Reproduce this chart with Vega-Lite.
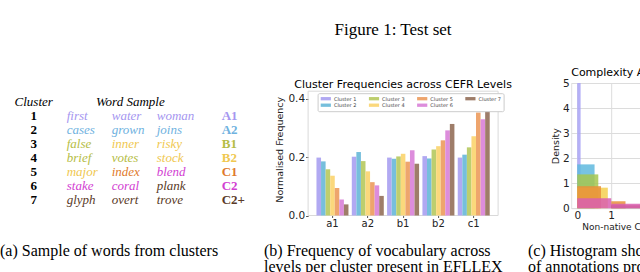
{
  "$schema": "https://vega.github.io/schema/vega-lite/v6.json",
  "background": "white",
  "padding": {"left": 0, "top": 20, "right": 0, "bottom": 0},
  "autosize": {"type": "pad"},
  "title": {"text": "Figure 1:  Test set", "anchor": "start", "dx": 334.5, "font": "Liberation Serif", "fontSize": 17, "fontWeight": "normal", "color": "black", "baseline": "alphabetic", "offset": 15},
  "spacing": 9.5,
  "resolve": {"scale": {"color": "independent"}, "legend": {"color": "independent"}},
  "datasets": {
    "words": [
      {"row": 1, "col": "w1", "word": "first", "level": "A1"},
      {"row": 1, "col": "w2", "word": "water", "level": "A1"},
      {"row": 1, "col": "w3", "word": "woman", "level": "A1"},
      {"row": 2, "col": "w1", "word": "cases", "level": "A2"},
      {"row": 2, "col": "w2", "word": "grown", "level": "A2"},
      {"row": 2, "col": "w3", "word": "joins", "level": "A2"},
      {"row": 3, "col": "w1", "word": "false", "level": "B1"},
      {"row": 3, "col": "w2", "word": "inner", "level": "B2"},
      {"row": 3, "col": "w3", "word": "risky", "level": "B2"},
      {"row": 4, "col": "w1", "word": "brief", "level": "B1"},
      {"row": 4, "col": "w2", "word": "votes", "level": "B1"},
      {"row": 4, "col": "w3", "word": "stock", "level": "B2"},
      {"row": 5, "col": "w1", "word": "major", "level": "B2"},
      {"row": 5, "col": "w2", "word": "index", "level": "C1"},
      {"row": 5, "col": "w3", "word": "blend", "level": "C2"},
      {"row": 6, "col": "w1", "word": "stake", "level": "C2"},
      {"row": 6, "col": "w2", "word": "coral", "level": "C2"},
      {"row": 6, "col": "w3", "word": "plank", "level": "C2+"},
      {"row": 7, "col": "w1", "word": "glyph", "level": "C2+"},
      {"row": 7, "col": "w2", "word": "overt", "level": "C2+"},
      {"row": 7, "col": "w3", "word": "trove", "level": "C2+"}
    ],
    "clusters": [
      {"row": 1, "col": "c", "label": "1"},
      {"row": 2, "col": "c", "label": "2"},
      {"row": 3, "col": "c", "label": "3"},
      {"row": 4, "col": "c", "label": "4"},
      {"row": 5, "col": "c", "label": "5"},
      {"row": 6, "col": "c", "label": "6"},
      {"row": 7, "col": "c", "label": "7"}
    ],
    "levels": [
      {"row": 1, "col": "L", "level": "A1"},
      {"row": 2, "col": "L", "level": "A2"},
      {"row": 3, "col": "L", "level": "B1"},
      {"row": 4, "col": "L", "level": "B2"},
      {"row": 5, "col": "L", "level": "C1"},
      {"row": 6, "col": "L", "level": "C2"},
      {"row": 7, "col": "L", "level": "C2+"}
    ],
    "freq": [
      {"level": "a1", "cluster": "Cluster 1", "value": 0.198},
      {"level": "a1", "cluster": "Cluster 2", "value": 0.185},
      {"level": "a1", "cluster": "Cluster 3", "value": 0.158},
      {"level": "a1", "cluster": "Cluster 4", "value": 0.136},
      {"level": "a1", "cluster": "Cluster 5", "value": 0.094},
      {"level": "a1", "cluster": "Cluster 6", "value": 0.055},
      {"level": "a1", "cluster": "Cluster 7", "value": 0.038},
      {"level": "a2", "cluster": "Cluster 1", "value": 0.201},
      {"level": "a2", "cluster": "Cluster 2", "value": 0.217},
      {"level": "a2", "cluster": "Cluster 3", "value": 0.186},
      {"level": "a2", "cluster": "Cluster 4", "value": 0.151},
      {"level": "a2", "cluster": "Cluster 5", "value": 0.114},
      {"level": "a2", "cluster": "Cluster 6", "value": 0.103},
      {"level": "a2", "cluster": "Cluster 7", "value": 0.067},
      {"level": "b1", "cluster": "Cluster 1", "value": 0.198},
      {"level": "b1", "cluster": "Cluster 2", "value": 0.194},
      {"level": "b1", "cluster": "Cluster 3", "value": 0.202},
      {"level": "b1", "cluster": "Cluster 4", "value": 0.211},
      {"level": "b1", "cluster": "Cluster 5", "value": 0.184},
      {"level": "b1", "cluster": "Cluster 6", "value": 0.223},
      {"level": "b1", "cluster": "Cluster 7", "value": 0.177},
      {"level": "b2", "cluster": "Cluster 1", "value": 0.203},
      {"level": "b2", "cluster": "Cluster 2", "value": 0.195},
      {"level": "b2", "cluster": "Cluster 3", "value": 0.226},
      {"level": "b2", "cluster": "Cluster 4", "value": 0.237},
      {"level": "b2", "cluster": "Cluster 5", "value": 0.257},
      {"level": "b2", "cluster": "Cluster 6", "value": 0.291},
      {"level": "b2", "cluster": "Cluster 7", "value": 0.313},
      {"level": "c1", "cluster": "Cluster 1", "value": 0.198},
      {"level": "c1", "cluster": "Cluster 2", "value": 0.208},
      {"level": "c1", "cluster": "Cluster 3", "value": 0.233},
      {"level": "c1", "cluster": "Cluster 4", "value": 0.271},
      {"level": "c1", "cluster": "Cluster 5", "value": 0.352},
      {"level": "c1", "cluster": "Cluster 6", "value": 0.329},
      {"level": "c1", "cluster": "Cluster 7", "value": 0.363}
    ],
    "hist": [
      {"cluster": "Cluster 1", "start": 0.0, "end": 0.1, "density": 5.0},
      {"cluster": "Cluster 2", "start": 0.0, "end": 0.51, "density": 1.75},
      {"cluster": "Cluster 3", "start": 0.0, "end": 0.62, "density": 1.35},
      {"cluster": "Cluster 4", "start": 0.0, "end": 0.9, "density": 0.82},
      {"cluster": "Cluster 5", "start": 0.0, "end": 0.7, "density": 0.88},
      {"cluster": "Cluster 5", "start": 1.0, "end": 1.42, "density": 0.28},
      {"cluster": "Cluster 7", "start": 1.0, "end": 2.6, "density": 0.12},
      {"cluster": "Cluster 6", "start": 0.0, "end": 1.0, "density": 0.4},
      {"cluster": "Cluster 6", "start": 1.0, "end": 2.6, "density": 0.18}
    ],
    "captions": [
      {"panel": "a", "line": 1, "text": "(a) Sample of words from clusters"},
      {"panel": "b", "line": 1, "text": "(b) Frequency of vocabulary across"},
      {"panel": "b", "line": 2, "text": "levels per cluster present in EFLLEX"},
      {"panel": "c", "line": 1, "text": "(c) Histogram showing the distribution"},
      {"panel": "c", "line": 2, "text": "of annotations provided by non-native"}
    ]
  },
  "vconcat": [
    {
      "bounds": "flush",
      "spacing": 73.1,
      "resolve": {"scale": {"color": "independent"}, "legend": {"color": "independent"}},
      "hconcat": [
        {
          "width": 234.4,
          "height": 126,
          "view": {"stroke": null},
          "layer": [
            {
              "data": {"values": [{"row": 0, "col": "c", "label": "Cluster"}]},
              "mark": {"type": "text", "font": "Liberation Serif", "fontSize": 13, "fontStyle": "italic", "align": "center", "baseline": "alphabetic", "dx": 12, "color": "black"},
              "encoding": {
                "x": {"field": "col", "type": "nominal", "scale": {"type": "point", "domain": ["c", "w1", "w2", "w3", "L"], "padding": 0.6044, "align": 0.399}, "axis": null},
                "y": {"field": "row", "type": "ordinal", "scale": {"type": "point", "domain": [0, 1, 2, 3, 4, 5, 6, 7], "padding": 1, "align": 0.839}, "axis": null},
                "text": {"field": "label"}
              }
            },
            {
              "data": {"values": [{"row": 0, "col": "w2", "label": "Word Sample"}]},
              "mark": {"type": "text", "font": "Liberation Serif", "fontSize": 13, "fontStyle": "italic", "align": "center", "baseline": "alphabetic", "dx": 18.6, "color": "black"},
              "encoding": {
                "x": {"field": "col", "type": "nominal", "scale": {"type": "point", "domain": ["c", "w1", "w2", "w3", "L"], "padding": 0.6044, "align": 0.399}, "axis": null},
                "y": {"field": "row", "type": "ordinal", "scale": {"type": "point", "domain": [0, 1, 2, 3, 4, 5, 6, 7], "padding": 1, "align": 0.839}, "axis": null},
                "text": {"field": "label"}
              }
            },
            {
              "data": {"name": "clusters"},
              "mark": {"type": "text", "font": "Liberation Serif", "fontSize": 13, "fontWeight": "bold", "align": "center", "baseline": "alphabetic", "dx": 12, "color": "black"},
              "encoding": {
                "x": {"field": "col", "type": "nominal", "scale": {"type": "point", "domain": ["c", "w1", "w2", "w3", "L"], "padding": 0.6044, "align": 0.399}, "axis": null},
                "y": {"field": "row", "type": "ordinal", "scale": {"type": "point", "domain": [0, 1, 2, 3, 4, 5, 6, 7], "padding": 1, "align": 0.839}, "axis": null},
                "text": {"field": "label"}
              }
            },
            {
              "data": {"name": "words"},
              "mark": {"type": "text", "font": "Liberation Serif", "fontSize": 13, "fontStyle": "italic", "align": "left", "baseline": "alphabetic"},
              "encoding": {
                "x": {"field": "col", "type": "nominal", "scale": {"type": "point", "domain": ["c", "w1", "w2", "w3", "L"], "padding": 0.6044, "align": 0.399}, "axis": null},
                "y": {"field": "row", "type": "ordinal", "scale": {"type": "point", "domain": [0, 1, 2, 3, 4, 5, 6, 7], "padding": 1, "align": 0.839}, "axis": null},
                "text": {"field": "word"},
                "color": {"field": "level", "type": "nominal", "scale": {"domain": ["A1", "A2", "B1", "B2", "C1", "C2", "C2+"], "range": ["#a596f0", "#6fb2e0", "#b5bd45", "#f0c850", "#df7a2c", "#d23ed2", "#5a3a28"]}, "legend": null}
              }
            },
            {
              "data": {"name": "levels"},
              "mark": {"type": "text", "font": "Liberation Serif", "fontSize": 13, "fontWeight": "bold", "align": "left", "baseline": "alphabetic", "dx": 20},
              "encoding": {
                "x": {"field": "col", "type": "nominal", "scale": {"type": "point", "domain": ["c", "w1", "w2", "w3", "L"], "padding": 0.6044, "align": 0.399}, "axis": null},
                "y": {"field": "row", "type": "ordinal", "scale": {"type": "point", "domain": [0, 1, 2, 3, 4, 5, 6, 7], "padding": 1, "align": 0.839}, "axis": null},
                "text": {"field": "level"},
                "color": {"field": "level", "type": "nominal", "scale": {"domain": ["A1", "A2", "B1", "B2", "C1", "C2", "C2+"], "range": ["#a596f0", "#6fb2e0", "#b5bd45", "#f0c850", "#df7a2c", "#d23ed2", "#5a3a28"]}, "legend": null}
              }
            }
          ]
        },
        {
          "width": 190,
          "height": 132.5,
          "view": {"stroke": null},
          "title": {"text": "Cluster Frequencies across CEFR Levels", "font": "DejaVu Sans", "fontSize": 11, "fontWeight": "normal", "color": "black", "anchor": "middle", "baseline": "alphabetic", "offset": -15.6},
          "layer": [
            {
              "data": {"values": [{"top": 0.425, "bottom": 0}]},
              "mark": {"type": "rect", "fill": "transparent", "stroke": "#d9d9d9", "strokeWidth": 1},
              "encoding": {
                "y": {"field": "top", "type": "quantitative", "scale": {"domain": [0, 0.453], "nice": false}},
                "y2": {"field": "bottom"}
              }
            },
            {
              "data": {"name": "freq"},
              "mark": {"type": "bar"},
              "encoding": {
                "x": {"field": "level", "type": "nominal", "scale": {"paddingInner": 0.094, "paddingOuter": 0.237}, "axis": {"title": null, "labelAngle": 0, "labelFont": "DejaVu Sans", "labelFontSize": 10, "labelColor": "#222", "domain": false, "tickSize": 2, "tickColor": "#555", "labelPadding": 1}},
                "xOffset": {"field": "cluster", "type": "nominal", "scale": {"domain": ["Cluster 1", "Cluster 2", "Cluster 3", "Cluster 4", "Cluster 5", "Cluster 6", "Cluster 7"], "paddingInner": 0, "paddingOuter": 0}},
                "y": {"field": "value", "type": "quantitative", "stack": null, "scale": {"domain": [0, 0.453], "nice": false}, "axis": {"title": "Normalised Frequency", "values": [0, 0.1, 0.2, 0.3, 0.4], "format": ".1f", "grid": false, "domain": false, "tickSize": 2.5, "tickColor": "#555", "labelPadding": 1, "labelFont": "DejaVu Sans", "labelFontSize": 10.5, "labelColor": "#222", "titleFont": "DejaVu Sans", "titleFontSize": 9.5, "titleFontWeight": "normal", "titleColor": "#222", "titlePadding": 3}},
                "color": {
                  "field": "cluster", "type": "nominal",
                  "scale": {"domain": ["Cluster 1", "Cluster 2", "Cluster 3", "Cluster 4", "Cluster 5", "Cluster 6", "Cluster 7"], "range": ["#b1a9f2", "#76bfdc", "#bdce6e", "#fbd87c", "#eea56d", "#dd8ddc", "#9e7d69"]},
                  "legend": {"orient": "none", "legendX": 9.5, "legendY": 10.2, "columns": 4, "title": null, "labelFont": "DejaVu Sans", "labelFontSize": 5, "labelColor": "#444", "symbolType": "M-0.8,-0.55H2.6V0.55H-0.8Z", "symbolSize": 36, "symbolStrokeWidth": 0, "symbolOpacity": 1, "labelOffset": 7.8, "columnPadding": 11.2, "rowPadding": 0.5, "padding": 2.5, "fillColor": "white", "strokeColor": "#cccccc", "cornerRadius": 1.5}
                }
              }
            }
          ]
        },
        {
          "width": 181,
          "height": 125.2,
          "view": {"stroke": "#e0e0e0"},
          "title": {"text": "Complexity Annotations", "font": "DejaVu Sans", "fontSize": 11, "fontWeight": "normal", "color": "black", "anchor": "start", "frame": "group", "baseline": "alphabetic", "offset": -9},
          "data": {"name": "hist"},
          "mark": {"type": "bar", "opacity": 0.85, "orient": "vertical"},
          "encoding": {
            "x": {"field": "start", "type": "quantitative", "scale": {"domain": [-0.03, 5], "nice": false, "zero": false}, "axis": {"title": "Non-native Complexity Annotations", "values": [0, 1, 2, 3, 4, 5], "grid": true, "gridColor": "#dcdcdc", "domain": false, "ticks": false, "labelPadding": 2, "labelFont": "DejaVu Sans", "labelFontSize": 10.5, "labelColor": "#222", "titleFont": "DejaVu Sans", "titleFontSize": 9, "titleFontWeight": "normal", "titleColor": "#222", "titlePadding": 2}},
            "x2": {"field": "end"},
            "y": {"field": "density", "type": "quantitative", "stack": null, "scale": {"domain": [0, 5], "nice": false}, "axis": {"title": "Density", "values": [0, 1, 2, 3, 4, 5], "grid": true, "gridColor": "#dcdcdc", "domain": false, "ticks": false, "labelPadding": 2, "labelFont": "DejaVu Sans", "labelFontSize": 10.5, "labelColor": "#222", "titleFont": "DejaVu Sans", "titleFontSize": 9.5, "titleFontWeight": "normal", "titleColor": "#222", "titlePadding": 2}},
            "y2": {"datum": 0},
            "color": {"field": "cluster", "type": "nominal", "scale": {"domain": ["Cluster 1", "Cluster 2", "Cluster 3", "Cluster 4", "Cluster 5", "Cluster 6", "Cluster 7"], "range": ["#a8a2f6", "#5fb9de", "#a6c74f", "#f4d050", "#e8913a", "#d95fb0", "#a4524e"]}, "legend": null}
          }
        }
      ]
    },
    {
      "width": 528,
      "height": 16,
      "view": {"stroke": null},
      "data": {"name": "captions"},
      "mark": {"type": "text", "font": "Liberation Serif", "fontSize": 16, "align": "left", "baseline": "alphabetic", "color": "black"},
      "encoding": {
        "x": {"field": "panel", "type": "nominal", "scale": {"type": "point", "padding": 0}, "axis": null},
        "y": {"field": "line", "type": "ordinal", "scale": {"type": "point", "padding": 0}, "axis": null},
        "text": {"field": "text"}
      }
    }
  ]
}
